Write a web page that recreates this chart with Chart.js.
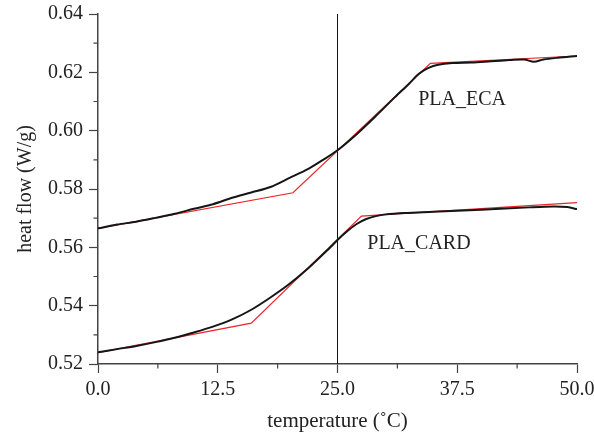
<!DOCTYPE html>
<html>
<head>
<meta charset="utf-8">
<script src="https://cdn.jsdelivr.net/npm/chart.js@4.4.1/dist/chart.umd.min.js"></script>
<style>
  body { margin: 0; background: #fff; }
  #wrap { width: 594px; height: 434px; position: relative; }
</style>
</head>
<body>
<div id="wrap"><canvas id="dsc-chart"></canvas></div>
<script>
// measured curves (black)
var ecaX = [0, 2, 4, 6, 8, 10, 12, 14, 16, 18, 20, 22, 23.5, 25, 27, 29, 31, 32.5, 33.5, 34.5, 35.5, 37, 39, 41, 43, 44.5, 45.5, 46.5, 48, 50];
var ecaY = [0.5665, 0.5678, 0.5688, 0.5701, 0.5715, 0.5732, 0.5748, 0.5770, 0.5788, 0.5807, 0.5838, 0.5870, 0.5900, 0.5933, 0.5988, 0.6050, 0.6115, 0.6162, 0.6195, 0.6215, 0.6226, 0.6232, 0.6234, 0.6238, 0.6242, 0.6244, 0.6236, 0.6244, 0.6250, 0.6256];
var cardX = [0, 2, 4, 6, 8, 10, 12, 14, 16, 18, 20, 22, 24, 25, 26, 27, 28, 29, 30, 32, 35, 40, 45, 47.5, 49, 50];
var cardY = [0.5240, 0.5251, 0.5262, 0.5275, 0.5290, 0.5308, 0.5328, 0.5353, 0.5386, 0.5428, 0.5475, 0.5530, 0.5592, 0.5625, 0.5655, 0.5680, 0.5697, 0.5707, 0.5713, 0.5718, 0.5722, 0.5729, 0.5737, 0.5740, 0.5738, 0.5731];

// tangent fits (red)
var ecaFitX = [0, 20.35, 34.7, 50];
var ecaFitY = [0.5665, 0.5787, 0.6231, 0.6256];
var cardFitX = [0, 16, 27.5, 50];
var cardFitY = [0.5239, 0.5340, 0.5707, 0.5753];

// vertical marker and labels
var markerX = 25;
var labels = [
  { text: "PLA_ECA", x: 38, y: 0.6105 },
  { text: "PLA_CARD", x: 33.5, y: 0.5611 }
];

var xMin = 0, xMax = 50, xStep = 12.5;
var yMin = 0.52, yMax = 0.64, yStep = 0.02;

function pts(xs, ys) {
  return xs.map(function (x, i) { return { x: x, y: ys[i] }; });
}

var serif = "'Liberation Serif', 'DejaVu Serif', serif";

var minorTicks = {
  id: "minorTicks",
  afterDraw: function (chart) {
    var ctx = chart.ctx, xs = chart.scales.x, ys = chart.scales.y;
    var area = chart.chartArea;
    ctx.save();
    ctx.strokeStyle = "#444";
    ctx.lineWidth = 1.2;
    ctx.beginPath();
    for (var v = xMin + xStep / 2; v < xMax; v += xStep) {
      var px = xs.getPixelForValue(v);
      ctx.moveTo(px, area.bottom);
      ctx.lineTo(px, area.bottom + 4.5);
    }
    for (var w = yMin + yStep / 2; w < yMax; w += yStep) {
      var py = ys.getPixelForValue(w);
      ctx.moveTo(area.left, py);
      ctx.lineTo(area.left - 4.5, py);
    }
    ctx.stroke();

    ctx.fillStyle = "#222";
    ctx.font = "20px " + serif;
    ctx.textAlign = "center";
    ctx.textBaseline = "middle";
    labels.forEach(function (l) {
      ctx.fillText(l.text, xs.getPixelForValue(l.x), ys.getPixelForValue(l.y));
    });
    ctx.restore();
  }
};

new Chart(document.getElementById("dsc-chart"), {
  type: "scatter",
  data: {
    datasets: [
      { data: pts(ecaX, ecaY), showLine: true, borderColor: "#151515", borderWidth: 2, pointRadius: 0, tension: 0.3 },
      { data: pts(cardX, cardY), showLine: true, borderColor: "#151515", borderWidth: 2, pointRadius: 0, tension: 0.3 },
      { data: pts(ecaFitX, ecaFitY), showLine: true, borderColor: "#e8262a", borderWidth: 1.2, pointRadius: 0 },
      { data: pts(cardFitX, cardFitY), showLine: true, borderColor: "#e8262a", borderWidth: 1.2, pointRadius: 0 },
      { data: [{ x: markerX, y: yMin }, { x: markerX, y: yMax }], showLine: true, borderColor: "#111", borderWidth: 1, pointRadius: 0 }
    ]
  },
  options: {
    responsive: true,
    maintainAspectRatio: false,
    animation: false,
    layout: { padding: { left: 0, right: 17, top: 14, bottom: 0 } },
    plugins: { legend: { display: false }, tooltip: { enabled: false } },
    scales: {
      x: {
        type: "linear",
        min: xMin, max: xMax,
        afterFit: function (s) { s.height = 70; s.paddingLeft = 0; s.paddingRight = 0; },
        border: { color: "#444", width: 1.5 },
        grid: { drawOnChartArea: false, color: "#444", tickLength: 9, tickWidth: 1.2 },
        ticks: {
          stepSize: xStep, color: "#222", padding: 5,
          font: { family: serif, size: 20 },
          callback: function (v) { return v.toFixed(1); }
        },
        title: { display: true, text: "temperature (˚C)", color: "#222", font: { family: serif, size: 21 }, padding: { top: 0, bottom: 0 } }
      },
      y: {
        type: "linear",
        min: yMin, max: yMax,
        afterFit: function (s) { s.width = 98; s.paddingTop = 0; s.paddingBottom = 0; },
        border: { color: "#444", width: 1.5 },
        grid: { drawOnChartArea: false, color: "#444", tickLength: 9, tickWidth: 1.2 },
        ticks: {
          stepSize: yStep, color: "#222", padding: 6,
          font: { family: serif, size: 20 },
          callback: function (v) { return v.toFixed(2); }
        },
        title: { display: true, text: "heat flow (W/g)", color: "#222", font: { family: serif, size: 20 }, padding: { top: 14, bottom: 0 } }
      }
    }
  },
  plugins: [minorTicks]
});
</script>
</body>
</html>
